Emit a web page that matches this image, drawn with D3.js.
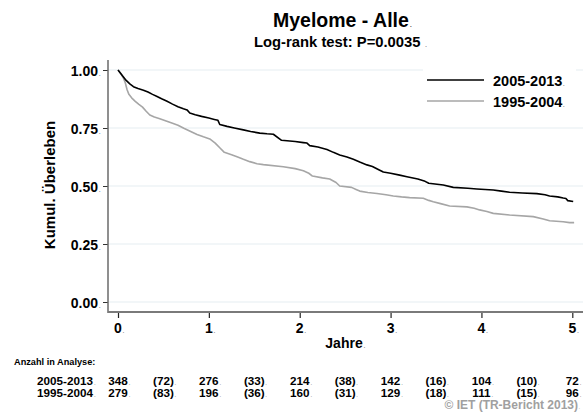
<!DOCTYPE html>
<html><head><meta charset="utf-8">
<script src="https://cdn.jsdelivr.net/npm/d3@7/dist/d3.min.js"></script>
<style>html,body{margin:0;padding:0;background:#fff;}svg{display:block;}</style>
</head><body>
<script>
// ---- data ----
const seriesNames = ["2005-2013", "1995-2004"];
const timesNew = [0,0.03,0.06,0.09,0.13,0.17,0.22,0.28,0.33,0.38,0.43,0.48,0.54,0.60,0.66,0.72,0.76,0.79,0.85,0.92,1.00,1.06,1.10,1.12,1.20,1.28,1.38,1.46,1.56,1.64,1.71,1.80,1.95,2.04,2.08,2.11,2.20,2.30,2.37,2.44,2.52,2.59,2.66,2.74,2.80,2.87,2.92,3.00,3.10,3.18,3.30,3.38,3.42,3.58,3.69,3.85,3.95,4.13,4.22,4.31,4.45,4.61,4.70,4.75,4.84,4.90,4.93,4.95,5.01];
const survNew  = [1.0,0.985,0.97,0.955,0.94,0.928,0.92,0.913,0.905,0.895,0.886,0.876,0.865,0.853,0.842,0.833,0.828,0.815,0.807,0.800,0.793,0.787,0.783,0.765,0.757,0.750,0.742,0.735,0.728,0.725,0.723,0.697,0.692,0.687,0.685,0.674,0.668,0.657,0.645,0.634,0.625,0.615,0.603,0.591,0.584,0.570,0.560,0.555,0.547,0.540,0.530,0.520,0.512,0.504,0.494,0.490,0.487,0.483,0.478,0.473,0.470,0.467,0.462,0.457,0.453,0.448,0.446,0.437,0.433];
const timesOld = [0,0.03,0.06,0.08,0.10,0.12,0.15,0.19,0.23,0.27,0.31,0.35,0.40,0.46,0.53,0.60,0.66,0.73,0.80,0.87,0.94,1.01,1.07,1.12,1.17,1.25,1.31,1.38,1.45,1.53,1.60,1.82,1.95,2.04,2.10,2.14,2.25,2.33,2.40,2.44,2.57,2.62,2.66,2.75,2.85,2.95,3.03,3.12,3.21,3.36,3.42,3.47,3.55,3.65,3.84,3.92,3.98,4.06,4.13,4.31,4.57,4.68,4.75,4.90,4.97,5.02];
const survOld  = [1.0,0.985,0.965,0.945,0.915,0.895,0.88,0.865,0.852,0.84,0.822,0.806,0.797,0.790,0.780,0.770,0.762,0.748,0.735,0.722,0.712,0.703,0.685,0.665,0.645,0.635,0.626,0.615,0.605,0.596,0.592,0.583,0.575,0.566,0.555,0.543,0.535,0.530,0.515,0.500,0.494,0.485,0.478,0.472,0.468,0.462,0.457,0.453,0.450,0.447,0.438,0.432,0.424,0.414,0.410,0.404,0.397,0.390,0.382,0.375,0.368,0.358,0.350,0.346,0.342,0.342];
const xTicks = [0,1,2,3,4,5];
const yTicks = [0,0.25,0.5,0.75,1];
const riskTimes = [0,0.5,1,1.5,2,2.5,3,3.5,4,4.5,5];
const riskNew = ["348","(72)","276","(33)","214","(38)","142","(16)","104","(10)","72"];
const riskOld = ["279","(83)","196","(36)","160","(31)","129","(18)","111","(15)","96"];
const titleText = "Myelome - Alle";
const subtitleText = "Log-rank test: P=0.0035";
const xTitle = "Jahre";
const yTitle = "Kumul. Überleben";
const riskTitle = "Anzahl in Analyse:";
const creditText = "© IET (TR-Bericht 2013)";

// ---- drawing ----
const W = 586, H = 419;
const FONT = '"Liberation Sans", Arial, Helvetica, sans-serif';
const svg = d3.select("body").append("svg").attr("width", W).attr("height", H);
svg.append("rect").attr("width", W).attr("height", H).attr("fill", "#fff");

const x = d3.scaleLinear().domain([0, 5]).range([118, 572.3]);
const y = d3.scaleLinear().domain([0, 1]).range([302, 70]);
const axisX = 108, axisY = 312;

function label(g, px, py, str, size, anchor, opts = {}) {
  const t = g.append("text").attr("x", px).attr("y", py)
    .attr("font-family", FONT).attr("font-weight", opts.weight || "bold")
    .attr("font-size", size).attr("text-anchor", anchor)
    .attr("fill", opts.fill || "#000").text(str);
  if (opts.dot !== false) {
    const bb = t.node().getBBox();
    g.append("text").attr("x", bb.x + bb.width + 0.5 + (opts.gap || 0)).attr("y", py)
      .attr("font-family", FONT).attr("font-size", Math.max(6, size * 0.5))
      .attr("fill", opts.fill || "#555").text(".");
  }
  return t;
}

// gridlines
svg.append("g").selectAll("line").data(yTicks).join("line")
  .attr("x1", axisX).attr("x2", 583)
  .attr("y1", d => y(d)).attr("y2", d => y(d))
  .attr("stroke", "#e6eef2").attr("stroke-width", 1.2);

// legend box (white, covers grid)
svg.append("rect").attr("x", 423).attr("y", 64).attr("width", 153).attr("height", 48).attr("fill", "#fff");

// axes via d3
const gy = svg.append("g").attr("transform", `translate(${axisX},0)`)
  .call(d3.axisLeft(y).tickValues(yTicks).tickSize(5).tickFormat(""));
gy.select(".domain").remove();
gy.selectAll(".tick line").attr("stroke", "#333").attr("stroke-width", 1);
const gx = svg.append("g").attr("transform", `translate(0,${axisY})`)
  .call(d3.axisBottom(x).tickValues(xTicks).tickSize(6).tickFormat(""));
gx.select(".domain").remove();
gx.selectAll(".tick line").attr("stroke", "#222").attr("stroke-width", 1.2);

// axis lines
svg.append("line").attr("x1", axisX).attr("x2", axisX).attr("y1", 60).attr("y2", axisY + 1)
  .attr("stroke", "#6a6a6a").attr("stroke-width", 1.5);
svg.append("line").attr("x1", axisX).attr("x2", 583).attr("y1", axisY).attr("y2", axisY)
  .attr("stroke", "#7a7a7a").attr("stroke-width", 2);

// tick labels
const lab = svg.append("g");
yTicks.forEach(v => label(lab, 98, y(v) + 6, d3.format(".2f")(v), 14, "end"));
xTicks.forEach(v => label(lab, x(v), 333, String(v), 14, "middle"));

// curves
const line = d3.line().x(d => x(d[0])).y(d => y(d[1])).curve(d3.curveLinear);
const dataNew = timesNew.map((t, i) => [t, survNew[i]]);
const dataOld = timesOld.map((t, i) => [t, survOld[i]]);
svg.append("path").datum(dataOld).attr("d", line).attr("fill", "none")
  .attr("stroke", "#a6a6a6").attr("stroke-width", 1.6).attr("stroke-linejoin", "round");
svg.append("path").datum(dataNew).attr("d", line).attr("fill", "none")
  .attr("stroke", "#000").attr("stroke-width", 1.6).attr("stroke-linejoin", "round");

// legend
svg.append("line").attr("x1", 427).attr("x2", 484).attr("y1", 80).attr("y2", 80).attr("stroke", "#000").attr("stroke-width", 1.6);
svg.append("line").attr("x1", 427).attr("x2", 484).attr("y1", 101).attr("y2", 101).attr("stroke", "#a6a6a6").attr("stroke-width", 1.6);
label(lab, 493, 86, seriesNames[0], 14.5, "start");
label(lab, 493, 106.5, seriesNames[1], 14.5, "start");

// titles
label(lab, 273, 27, titleText, 19.5, "start");
label(lab, 254, 47, subtitleText, 14.8, "start", { gap: 4 });
label(lab, 344, 348, xTitle, 14, "middle");
svg.append("text").attr("transform", "translate(55,185) rotate(-90)")
  .attr("text-anchor", "middle").attr("font-family", FONT).attr("font-weight", "bold")
  .attr("font-size", 15).text(yTitle);

// risk table
label(lab, 14, 364.5, riskTitle, 9.2, "start", { dot: false });
label(lab, 93, 385, seriesNames[0], 11.7, "end");
label(lab, 93, 396.5, seriesNames[1], 11.7, "end");
riskTimes.forEach((t, i) => {
  label(lab, x(t), 385, riskNew[i], 11.7, "middle");
  label(lab, x(t), 396.5, riskOld[i], 11.7, "middle");
});
label(lab, 578, 409, creditText, 12, "end", { fill: "#a0a0a0" });
</script>
</body></html>
